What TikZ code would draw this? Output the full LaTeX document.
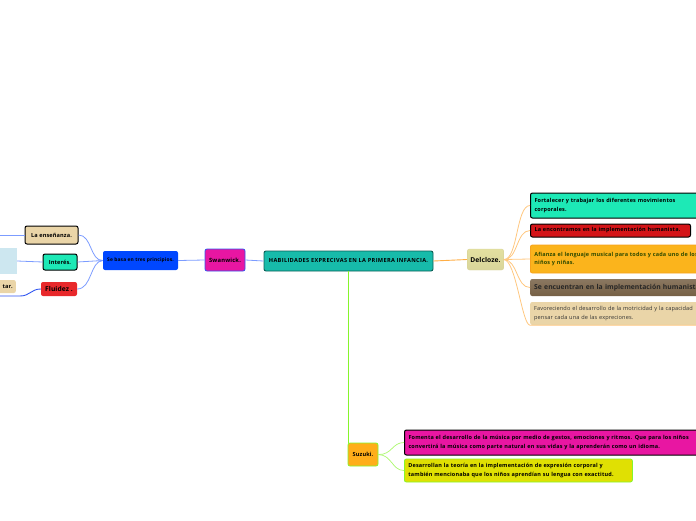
\documentclass[tikz,border=0pt]{standalone}
\usepackage{fontspec}
\setmainfont{Open Sans}
\definecolor{cteal}{HTML}{17BBAA}
\definecolor{ctealdark}{HTML}{0B5E55}
\definecolor{cmag}{HTML}{E816A2}
\definecolor{cblue}{HTML}{0047FF}
\definecolor{clinkblue}{HTML}{7C9CFF}
\definecolor{cdarkblue}{HTML}{2F55F0}
\definecolor{cbeige}{HTML}{EAD5A8}
\definecolor{caqua}{HTML}{1DE9B6}
\definecolor{cred}{HTML}{E8282B}
\definecolor{cred2}{HTML}{D41418}
\definecolor{clightblue}{HTML}{CDE7F0}
\definecolor{cdel}{HTML}{E3E0A0}
\definecolor{cdelb}{HTML}{D9D59A}
\definecolor{corange}{HTML}{FBB41C}
\definecolor{corangeb}{HTML}{F7A21B}
\definecolor{cbrown}{HTML}{766045}
\definecolor{clinkor}{HTML}{FFC77F}
\definecolor{corline}{HTML}{FFAE45}
\definecolor{csuz}{HTML}{FFAE1A}
\definecolor{cgreen}{HTML}{86F52B}
\definecolor{cyel}{HTML}{E0E003}
\definecolor{colive}{HTML}{2F4A00}
\newcommand{\fsz}[3]{\fontsize{#1}{#2}\selectfont\addfontfeatures{LetterSpace=#3}}
\tikzset{
  box/.style={rounded corners=2pt, inner xsep=3pt, inner ysep=1.5pt, align=left,
    font=\bfseries\fsz{5.5}{8.6}{3}},
  bluelink/.style={draw=clinkblue, line width=0.8pt},
  orlink/.style={draw=clinkor, line width=0.8pt},
  grlink/.style={draw=cgreen, line width=0.9pt},
}
\begin{document}
\begin{tikzpicture}[x=1pt,y=-1pt]
\useasboundingbox (0,0) rectangle (696,520);
\clip (0,0) rectangle (696,520);
% central
\node[box, fill=cteal, draw=ctealdark, line width=0.9pt, minimum width=169pt, minimum height=20pt, align=center,
  font=\bfseries\fsz{5.6}{6}{6}] (c) at (348.5,261) {HABILIDADES EXPRECIVAS EN LA PRIMERA INFANCIA.};
% left branch
\node[box, fill=cmag, draw=cdarkblue, line width=0.8pt, minimum width=40pt, minimum height=22pt, align=center,
  font=\bfseries\fsz{5.8}{6}{3}] (swan) at (225,260) {Swanwick.};
\node[box, fill=cblue, minimum width=75pt, minimum height=19pt, align=center,
  font=\bfseries\fsz{4.9}{6}{3}] (sebasa) at (140.5,260.5) {Se basa en tres principios.};
\node[box, fill=cbeige, draw=black, line width=1pt, minimum width=53pt, minimum height=18pt, align=center,
  font=\bfseries\fsz{5.6}{6}{2}] (ense) at (51.5,235) {La enseñanza.};
\node[box, fill=caqua, draw=black, line width=1pt, minimum width=34pt, minimum height=16pt, align=center,
  font=\bfseries\fsz{5.6}{6}{2}] (inter) at (60,262) {Interés.};
\node[box, fill=cred, minimum width=36pt, minimum height=14pt, align=center,
  font=\bfseries\fsz{6.7}{7}{1}] (flu) at (59,289) {Fluidez .};
\node[fill=clightblue, minimum width=24pt, minimum height=26pt, inner sep=0pt] (lb) at (5,261) {};
\node[box, fill=cbeige, anchor=east, minimum height=13pt, text width=24pt, align=right,
  font=\bfseries\fsz{5.6}{6}{2}] (tar) at (16,286.5) {tar.};
\coordinate (L1) at (0,235);
\coordinate (L2) at (0,296);
\coordinate (L3) at (20,296);
\draw[bluelink] (c.west) -- (swan.east);
\draw[bluelink] (swan.west) -- (sebasa.east);
\draw[bluelink] (sebasa.west) .. controls (90,261) and (92,235) .. (ense.east);
\draw[bluelink] (sebasa.west) -- (inter.east);
\draw[bluelink] (sebasa.west) .. controls (90,261) and (92,289) .. (flu.east);
\draw[bluelink] (L1) -- (ense.west);
\draw[bluelink] (lb.east) -- (inter.west);
\draw[draw=cdarkblue, line width=0.9pt] (L2) -- (L3) .. controls (30,296) and (31,289) .. (flu.west);
% right branch
\node[box, top color=cdel, bottom color=cdelb, draw=cdelb, minimum width=35pt, minimum height=21pt, align=center,
  font=\bfseries\fsz{6.7}{7}{1}] (del) at (485.5,259.5) {Delcloze.};
\draw[draw=corline, line width=0.9pt] (c.east) -- (del.west);
\node[box, fill=caqua, draw=black, line width=1pt, anchor=west, minimum width=200pt, minimum height=25pt, text width=192pt]
  (d1) at (530,205.5) {Fortalecer y trabajar los diferentes movimientos\\corporales.};
\node[box, fill=cred2, draw=black, line width=1pt, anchor=west, minimum width=160pt, minimum height=13pt, text width=152pt]
  (d2) at (530,230.5) {La encontramos en la implementación humanista.};
\node[box, fill=corange, draw=corangeb, line width=0.8pt, anchor=west, minimum width=200pt, minimum height=28pt, text width=192pt,
  text=colive] (d3) at (530,259) {Afianza el lenguaje musical para todos y cada uno de los\\niños y niñas.};
\node[box, top color=cbrown!85!white, bottom color=cbrown, anchor=west, minimum width=200pt, minimum height=17pt, text width=192pt,
  text=black!85, font=\bfseries\fsz{6.8}{8}{0}] (d4) at (530,287.5) {Se encuentran en la implementación humanista};
\node[box, fill=cbeige, anchor=west, minimum width=200pt, minimum height=23pt, text width=192pt,
  text=black!80, font=\fsz{5.6}{8.6}{2}] (d5) at (530,313.5) {Favoreciendo el desarrollo de la motricidad y la capacidad\\pensar cada una de las expreciones.};
\draw[orlink] (del.east) .. controls (518,260) and (516,205.5) .. (d1.west);
\draw[orlink] (del.east) .. controls (518,260) and (516,230.5) .. (d2.west);
\draw[orlink] (del.east) -- (d3.west);
\draw[orlink] (del.east) .. controls (518,260) and (516,287.5) .. (d4.west);
\draw[orlink] (del.east) .. controls (516,260) and (522,325) .. (d5.south west) -- (d5.south east);
% bottom branch
\node[box, fill=csuz, draw=cgreen, line width=0.8pt, minimum width=30pt, minimum height=23pt, align=center,
  font=\bfseries\fsz{5.6}{6}{2}] (suz) at (363,454.5) {Suzuki.};
\draw[grlink] (c.south) -- (c.south |- suz.north);
\node[box, fill=cmag, draw=black, line width=1pt, anchor=west, minimum width=300pt, minimum height=25pt, text width=292pt]
  (s1) at (404,442.5) {Fomenta el desarrollo de la música por medio de gestos, emociones y ritmos. Que para los niños\\convertirá la música como parte natural en sus vidas y la aprenderán como un idioma.};
\node[box, fill=cyel, draw=cgreen, line width=0.8pt, anchor=west, minimum width=228pt, minimum height=23pt, text width=220pt]
  (s2) at (404,470.5) {Desarrollan la teoría en la implementación de expresión corporal y\\también mencionaba que los niños aprendían su lengua con exactitud.};
\draw[draw=cgreen!70!white, line width=0.7pt] (suz.east) .. controls (392,455) and (392,442.5) .. (s1.west);
\draw[draw=cgreen!70!white, line width=0.7pt] (suz.east) .. controls (392,455) and (392,470.5) .. (s2.west);
\end{tikzpicture}
\end{document}
